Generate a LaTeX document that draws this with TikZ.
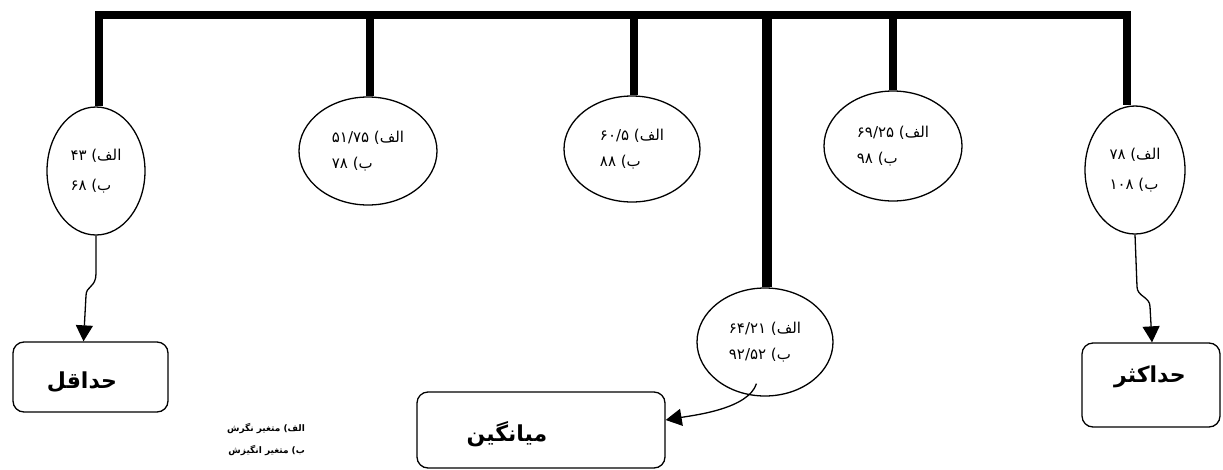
\documentclass[tikz,border=0pt]{standalone}
\usepackage{fontspec}
\usetikzlibrary{shapes.geometric,arrows.meta}
\TeXXeTstate=1
\newfontfamily\arabicfont[Script=Arabic]{DejaVu Sans}
\newfontfamily\arabicbold[Script=Arabic]{DejaVu Sans Bold}
\newcommand{\myrl}[1]{\beginR #1\endR}
\newcommand{\mynum}[1]{\beginL #1\endL{}}
\begin{document}
\begin{tikzpicture}[x=1pt,y=-1pt,
  ell/.style={draw,ellipse,line width=1.3pt,inner sep=0pt,align=left,
    font=\arabicfont\fontsize{15}{26}\selectfont},
  ellw/.style={ell,font=\arabicfont\fontsize{15}{30}\selectfont},
  box/.style={draw,rounded corners=11pt,line width=1.3pt},
  boxtext/.style={font=\arabicbold\fontsize{22}{24}\selectfont,inner sep=0pt},
  legend/.style={font=\arabicbold\fontsize{9}{22}\selectfont,align=right,inner sep=0pt},
  bar/.style={line width=8pt},
  conn/.style={line width=1.3pt,-{Triangle[width=17pt,length=16pt]}}
]
\useasboundingbox (0,0) rectangle (1223,469);

% ellipses
\node[ellw,minimum width=98pt,minimum height=128pt] (e1) at (96,171)
  {\myrl{الف) \mynum{۴۳}}\\\myrl{ب) \mynum{۶۸}}};
\node[ell,minimum width=138pt,minimum height=108pt] (e2) at (368,151)
  {\myrl{الف) \mynum{۵۱/۷۵}}\\\myrl{ب) \mynum{۷۸}}};
\node[ell,minimum width=136pt,minimum height=106pt] (e3) at (632,149)
  {\myrl{الف) \mynum{۶۰/۵}}\\\myrl{ب) \mynum{۸۸}}};
\node[ell,minimum width=138pt,minimum height=110pt] (e4) at (893,146)
  {\myrl{الف) \mynum{۶۹/۲۵}}\\\myrl{ب) \mynum{۹۸}}};
\node[ellw,minimum width=100pt,minimum height=128pt] (e5) at (1135,170)
  {\myrl{الف) \mynum{۷۸}}\\\myrl{ب) \mynum{۱۰۸}}};
\node[ell,minimum width=136pt,minimum height=108pt] (e6) at (765,342)
  {\myrl{الف) \mynum{۶۴/۲۱}}\\\myrl{ب) \mynum{۹۲/۵۲}}};

% top bar and verticals
\coordinate (bl) at (95,15);
\coordinate (br) at (1131,15);
\draw[line width=7.5pt] (bl) -- (br);
\coordinate (v1) at (99,15);
\coordinate (v2) at (370,15);
\coordinate (v3) at (634,15);
\coordinate (v4) at (767,15);
\coordinate (v5) at (893,15);
\coordinate (v6) at (1127,15);
\draw[bar] (v1) -- (v1 |- e1.north);
\draw[bar] (v2) -- (v2 |- e2.north);
\draw[bar] (v3) -- (v3 |- e3.north);
\draw[line width=10pt] (v4) -- (v4 |- e6.north);
\draw[bar] (v5) -- (v5 |- e4.north);
\draw[bar] (v6) -- (v6 |- e5.north);

% boxes
\node[box,minimum width=155pt,minimum height=70pt] (b1) at (90.5,377) {};
\node[box,minimum width=248pt,minimum height=76pt] (b2) at (541,430) {};
\node[box,minimum width=138pt,minimum height=84pt] (b3) at (1151,385) {};
\node[boxtext] (t1) at (82,382) {\myrl{حداقل}};
\node[boxtext] (t2) at (507,434) {\myrl{میانگین}};
\node[boxtext] (t3) at (1150,377) {\myrl{حداکثر}};

% legend
\node[legend] (lg) at (266,439) {\myrl{الف) متغیر نگرش}\\\myrl{ب) متغیر انگیزش}};

% connectors
\draw[conn] (e1.south) -- ++(0,38) .. controls +(0,14) and +(0,-10) .. ++(-10,22) -- ([xshift=-7pt]b1.north);
\draw[conn] (e5.south) -- ++(2,52) .. controls +(0,10) and +(0,-10) .. ++(13,20) -- ([xshift=1pt]b3.north);
\draw[conn] (e6.south west) ++(40,3) .. controls +(-8,25) and +(30,-5) .. ([yshift=10pt]b2.east);
\end{tikzpicture}
\end{document}
